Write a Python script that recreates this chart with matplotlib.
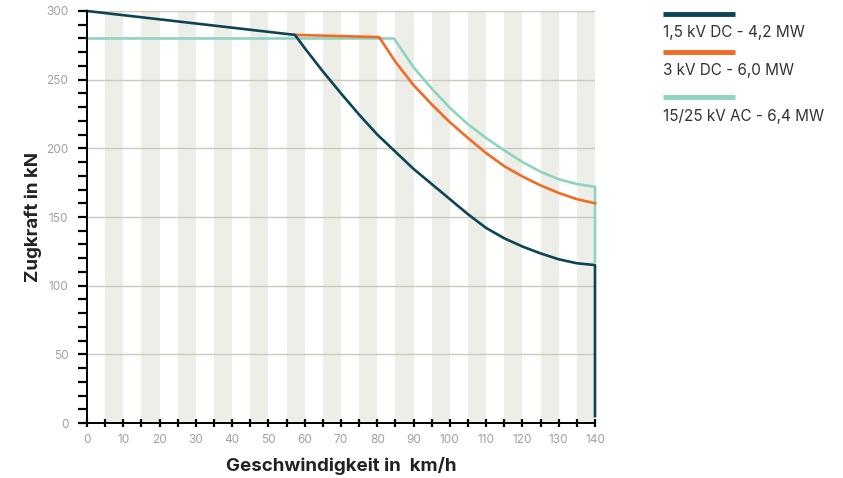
import matplotlib
matplotlib.use("Agg")
import matplotlib.pyplot as plt
from matplotlib.lines import Line2D
import numpy as np

# ---- data ----
speed_15dc = [0, 57.3, 60, 65, 70, 75, 80, 85, 90, 95, 100, 105, 110, 115, 120, 125, 130, 135, 140, 140]
force_15dc = [300, 282.6, 273, 256, 240, 224.5, 210, 197.5, 185, 174, 163, 152, 142, 134.5, 128.5, 123.5, 119.2, 116.3, 115, 5]

speed_3dc = [57.3, 80.5, 85, 90, 95, 100, 105, 110, 115, 120, 125, 130, 135, 140]
force_3dc = [282.6, 281, 263, 246, 232, 219, 207.5, 196.5, 187, 179.5, 173, 167.5, 163, 160]

speed_ac = [0, 84.6, 90, 95, 100, 105, 110, 115, 120, 125, 130, 135, 140, 140]
force_ac = [280, 280, 259, 243.5, 229.5, 217.5, 207.5, 198.5, 190, 183, 177.5, 174, 172, 117.5]

labels = ["1,5 kV DC - 4,2 MW", "3 kV DC - 6,0 MW", "15/25 kV AC - 6,4 MW"]
colors = ["#0b4553", "#f26a24", "#8fd3c1"]

x_major = list(range(0, 141, 10))
x_minor = list(range(5, 141, 10))
y_major = list(range(0, 301, 50))
y_minor = list(range(0, 301, 10))

xlabel = "Geschwindigkeit in  km/h"
ylabel = "Zugkraft in kN"

# ---- figure ----
W, H = 843, 478
fig = plt.figure(figsize=(W / 100, H / 100), dpi=100)
ax = fig.add_axes([87 / W, 1 - 423 / H, (595 - 87) / W, (423 - 11) / H])

ax.set_xlim(0, 140)
ax.set_ylim(0, 300)

# stripes
for s in x_minor:
    ax.axvspan(s, s + 5, color="#eeeee8", lw=0, zorder=0)

# horizontal grid
for g in y_major[1:]:
    ax.axhline(g, color="#cdc8ba", lw=1.0, zorder=1)

series = [(speed_ac, force_ac, colors[2]), (speed_3dc, force_3dc, colors[1]), (speed_15dc, force_15dc, colors[0])]
for xs, ys, c in series:
    ax.plot(xs, ys, color=c, lw=1.9, clip_on=False, zorder=3, solid_joinstyle="round")

for side in ["top", "right"]:
    ax.spines[side].set_visible(False)
for side in ["left", "bottom"]:
    ax.spines[side].set_linewidth(1.4)
    ax.spines[side].set_color("black")
    ax.spines[side].set_zorder(4)

tick_fs = 8.5
ax.set_xticks(x_major)
ax.set_xticks(x_minor, minor=True)
ax.set_xticklabels([str(v) for v in x_major], color="#a0a0a0", fontsize=tick_fs, family=["Inter", "DejaVu Sans"])
ax.set_yticks(y_major)
ax.set_yticks([v for v in y_minor if v % 50], minor=True)
ax.set_yticklabels([str(v) for v in y_major], color="#a0a0a0", fontsize=tick_fs, family=["Inter", "DejaVu Sans"])

ax.tick_params(axis="x", which="both", direction="inout", length=6, width=1.6, color="black", pad=5)
ax.tick_params(axis="y", which="both", direction="out", length=6.5, width=1.6, color="black", pad=7)

ax.set_xlabel(xlabel, fontsize=13.5, fontweight="bold", color="#222222", family=["Inter", "DejaVu Sans"], labelpad=8)
ax.set_ylabel(ylabel, fontsize=13.5, fontweight="bold", color="#222222", family=["Inter", "DejaVu Sans"], labelpad=3)

# legend: line above each label
leg_x0, leg_x1 = 663 / W, 735 / W
line_y = [14, 52, 97]
for lab, c, ly in zip(labels, colors, line_y):
    fig.add_artist(Line2D([leg_x0, leg_x1], [1 - ly / H, 1 - ly / H], color=c, lw=3.5,
                          transform=fig.transFigure, solid_capstyle="butt"))
    fig.text(leg_x0, 1 - (ly + 19) / H, lab, fontsize=11, color="#333333",
             family=["Inter", "DejaVu Sans"], va="center", ha="left")

fig.savefig("out.png", dpi=100)
